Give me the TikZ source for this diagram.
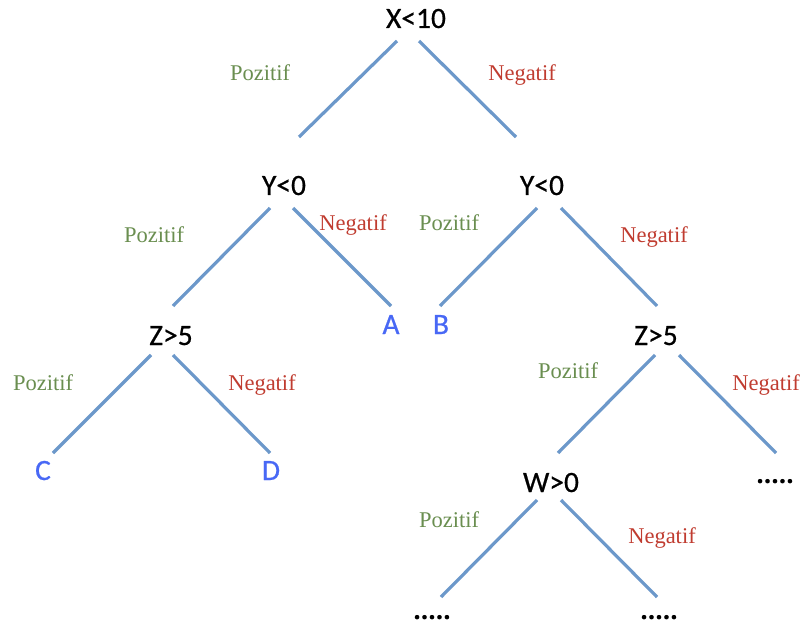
\documentclass[tikz,border=0pt]{standalone}
\usepackage{fontspec}
\setmainfont{Liberation Serif}
\newfontfamily\calfont{Carlito}[FakeBold=0.6]
\definecolor{edgeblue}{RGB}{108,152,202}
\definecolor{posgreen}{RGB}{106,142,80}
\definecolor{negred}{RGB}{192,60,48}
\definecolor{leafblue}{RGB}{72,104,245}
\tikzset{
  testnode/.style={anchor=base, inner sep=0pt, font=\calfont\fontsize{29.5}{30}\selectfont, text=black},
  leafnode/.style={anchor=base, inner sep=0pt, font=\calfont\fontsize{29.5}{30}\selectfont, text=leafblue},
  morenode/.style={anchor=base, inner sep=0pt, font=\calfont\bfseries\fontsize{28}{30}\selectfont, text=black},
  poslabel/.style={anchor=base, inner sep=0pt, font=\fontsize{22.5}{24}\selectfont, text=posgreen},
  neglabel/.style={anchor=base, inner sep=0pt, font=\fontsize{22.5}{24}\selectfont, text=negred},
  branch/.style={draw=edgeblue, line width=3.2pt}
}
\begin{document}
\begin{tikzpicture}[x=1pt,y=-1pt]
\useasboundingbox (0,0) rectangle (803,631);
% tests
\node[testnode] (root) at (416,28) {X<10};
\node[testnode] (yl) at (284,195) {Y<0};
\node[testnode] (yr) at (542,195) {Y<0};
\node[testnode] (zl) at (171,345) {Z>5};
\node[testnode] (zr) at (656,345) {Z>5};
\node[testnode] (w) at (551,492) {W>0};
% leaves
\node[leafnode] (a) at (391,334) {A};
\node[leafnode] (b) at (441,334) {B};
\node[leafnode] (c) at (43,480) {C};
\node[leafnode] (d) at (271,480) {D};
\node[morenode] (m1) at (775,483) {.....};
\node[morenode] (m2) at (432,619) {.....};
\node[morenode] (m3) at (659,619) {.....};
% connector ends
\coordinate (root-l) at (397,41);  \coordinate (yl-t) at (299,137);
\coordinate (root-r) at (419,41);  \coordinate (yr-t) at (516,137);
\coordinate (yl-l) at (270,208);   \coordinate (zl-t) at (173,306);
\coordinate (yl-r) at (293,208);   \coordinate (a-t) at (391,306);
\coordinate (yr-l) at (537,208);   \coordinate (b-t) at (440,306);
\coordinate (yr-r) at (561,208);   \coordinate (zr-t) at (657,306);
\coordinate (zl-l) at (151,355);   \coordinate (c-t) at (53,453);
\coordinate (zl-r) at (173,355);   \coordinate (d-t) at (270,453);
\coordinate (zr-l) at (655,355);   \coordinate (w-t) at (558,453);
\coordinate (zr-r) at (679,355);   \coordinate (m1-t) at (776,453);
\coordinate (w-l) at (537,500);    \coordinate (m2-t) at (441,597);
\coordinate (w-r) at (561,500);    \coordinate (m3-t) at (657,597);
% branches
\draw[branch] (root-l) -- (yl-t);
\draw[branch] (root-r) -- (yr-t);
\draw[branch] (yl-l) -- (zl-t);
\draw[branch] (yl-r) -- (a-t);
\draw[branch] (yr-l) -- (b-t);
\draw[branch] (yr-r) -- (zr-t);
\draw[branch] (zl-l) -- (c-t);
\draw[branch] (zl-r) -- (d-t);
\draw[branch] (zr-l) -- (w-t);
\draw[branch] (zr-r) -- (m1-t);
\draw[branch] (w-l) -- (m2-t);
\draw[branch] (w-r) -- (m3-t);
% labels
\node[poslabel] (p1) at (260,81) {Pozitif};
\node[neglabel] (n1) at (522,81) {Negatif};
\node[poslabel] (p2) at (154,242) {Pozitif};
\node[neglabel] (n2) at (353,230) {Negatif};
\node[poslabel] (p3) at (449,230) {Pozitif};
\node[neglabel] (n3) at (654,242) {Negatif};
\node[poslabel] (p4) at (43,390) {Pozitif};
\node[neglabel] (n4) at (262,390) {Negatif};
\node[poslabel] (p5) at (568,378) {Pozitif};
\node[neglabel] (n5) at (766,390) {Negatif};
\node[poslabel] (p6) at (449,527) {Pozitif};
\node[neglabel] (n6) at (662,543) {Negatif};
\end{tikzpicture}
\end{document}
